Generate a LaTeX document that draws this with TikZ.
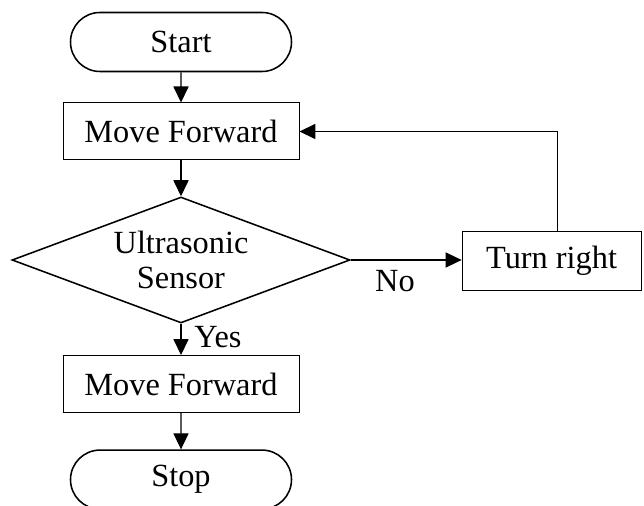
\documentclass[tikz,border=0pt]{standalone}
\usepackage{fontspec}
\setmainfont{Liberation Serif}
\usetikzlibrary{arrows.meta, positioning, shapes.geometric, shapes.misc}

\begin{document}
\begin{tikzpicture}[
		font=\fontsize{23}{25}\selectfont,
		terminal/.style={draw, line width=1.1pt, rounded rectangle, minimum width=5.525cm, minimum height=1.475cm, inner sep=0pt},
		process/.style={draw, line width=0.7pt, rectangle, minimum width=5.9cm, minimum height=1.425cm, inner sep=0pt},
		decision/.style={draw, line width=1.1pt, diamond, aspect=2.68, minimum width=8.45cm, minimum height=3.15cm, inner sep=0pt, align=center},
		flow/.style={line width=0.75pt, -{Triangle[length=0.4cm, width=0.38cm]}}
	]
		\useasboundingbox (0,0) rectangle (16.1,12.65);

		% Glowna sciezka
		\node[terminal] (start) at (4.525,11.6) {Start};
		\node[process] (fwd1) at (4.525,9.3625) {Move Forward};
		\node[decision] (sensor) at (4.525,6.15) {Ultrasonic\\Sensor};
		\node[process] (fwd2) at (4.525,3.05) {Move Forward};
		\node[terminal] (stop) at (4.525,0.66) {Stop};

		% Galaz boczna
		\node[process, minimum width=4.475cm, minimum height=1.45cm] (turn) at (13.79,6.125) {Turn right};

		% Strzalki
		\draw[flow] (start) -- (fwd1);
		\draw[flow] (fwd1) -- (sensor);
		\draw[flow] (sensor) -- (fwd2);
		\draw[flow] (fwd2) -- (stop);
		\draw[flow] (sensor.east) -- (sensor.east -| turn.west);
		\draw[flow] ([xshift=0.14cm]turn.north) |- (fwd1.east);

		% Etykiety
		\node (yes) at (5.45,4.225) {Yes};
		\node (no) at (9.875,5.625) {No};

	\end{tikzpicture}
\end{document}
